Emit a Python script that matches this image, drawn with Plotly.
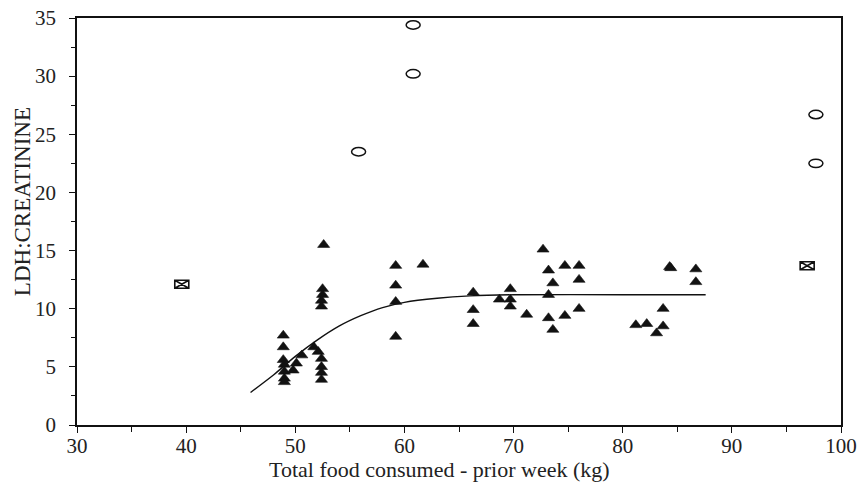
import plotly.graph_objects as go

# Filled triangles: total food consumed (kg) vs LDH:creatinine
tri_x = [48.9, 48.9, 48.9, 49.0, 49.0, 49.0, 49.0, 49.8, 50.1, 50.6, 51.7, 52.1,
         52.4, 52.4, 52.4, 52.4,
         52.6, 52.5, 52.5, 52.4, 52.4,
         59.2, 59.2, 59.2, 59.2, 61.7,
         66.3, 66.3, 66.3,
         68.7, 69.7, 69.7, 69.7, 71.2,
         72.7, 73.2, 73.6, 73.2, 73.2, 73.6,
         74.7, 76.0, 76.0, 76.0, 74.7,
         81.2, 82.2, 83.1, 83.7, 83.7, 84.3, 84.4, 86.7, 86.7]
tri_y = [7.7, 6.7, 5.6, 5.2, 4.6, 4.0, 3.7, 4.7, 5.3, 6.0, 6.7, 6.3,
         5.7, 5.0, 4.5, 3.9,
         15.5, 11.7, 11.2, 10.7, 10.2,
         13.7, 12.0, 10.6, 7.6, 13.8,
         11.4, 9.9, 8.7,
         10.8, 11.7, 10.8, 10.2, 9.5,
         15.1, 13.3, 12.2, 11.2, 9.2, 8.2,
         13.7, 13.7, 12.5, 10.0, 9.4,
         8.6, 8.7, 7.9, 8.5, 10.0, 13.6, 13.5, 13.4, 12.3]

# Open ellipses
ell_x = [60.8, 60.8, 55.8, 97.7, 97.7]
ell_y = [34.4, 30.2, 23.5, 26.7, 22.5]

# Crossed boxes
box_x = [39.6, 96.9]
box_y = [12.1, 13.7]

# Fitted curve
fit_x = [45.9, 48.0, 50.0, 52.0, 54.0, 56.0, 58.0, 60.0, 63.0, 66.0, 70.0, 80.0, 87.6]
fit_y = [2.8, 4.3, 5.9, 7.3, 8.5, 9.4, 10.1, 10.55, 10.9, 11.1, 11.2, 11.2, 11.2]

x_ticks = [30, 40, 50, 60, 70, 80, 90, 100]
y_ticks = [0, 5, 10, 15, 20, 25, 30, 35]

FONT = "Liberation Serif, Times New Roman, serif"
INK = "#222222"

fig = go.Figure()

fig.add_trace(go.Scatter(
    x=fit_x, y=fit_y, mode="lines",
    line=dict(color="#111111", width=1.4, shape="spline", smoothing=0.8),
    hoverinfo="skip", showlegend=False,
))

fig.add_trace(go.Scatter(
    x=tri_x, y=tri_y, mode="markers",
    marker=dict(symbol="triangle-up", size=10.5, color="#121212",
                line=dict(color="#121212", width=0.6)),
    showlegend=False,
))

shapes = []
for ex, ey in zip(ell_x, ell_y):
    shapes.append(dict(
        type="circle", xref="x", yref="y",
        xsizemode="pixel", ysizemode="pixel",
        xanchor=ex, yanchor=ey,
        x0=-7, x1=7, y0=-4.2, y1=4.2,
        line=dict(color="#111111", width=1.5),
        fillcolor="rgba(255,255,255,0)",
    ))
for bx, by in zip(box_x, box_y):
    shapes.append(dict(
        type="path", xref="x", yref="y",
        xsizemode="pixel", ysizemode="pixel",
        xanchor=bx, yanchor=by,
        path="M-7,-4 L7,-4 L7,4 L-7,4 Z M-7,-4 L7,4 M-7,4 L7,-4",
        line=dict(color="#111111", width=1.6),
        fillcolor="rgba(255,255,255,0)",
    ))

fig.update_layout(
    width=857, height=493,
    margin=dict(l=77, r=16, t=18, b=68, autoexpand=False),
    paper_bgcolor="white", plot_bgcolor="white",
    font=dict(family=FONT, size=21, color=INK),
    shapes=shapes,
    showlegend=False,
    annotations=[
        dict(text="LDH:CREATININE", textangle=-90,
             xref="paper", yref="paper", x=-0.072, y=0.55,
             xanchor="center", yanchor="middle", showarrow=False,
             font=dict(family=FONT, size=23, color=INK)),
        dict(text="Total food consumed - prior week (kg)",
             xref="paper", yref="paper", x=0.474, y=-0.11,
             xanchor="center", yanchor="middle", showarrow=False,
             font=dict(family=FONT, size=22, color=INK)),
    ],
)

fig.update_xaxes(
    range=[30, 100], tickvals=x_ticks, ticktext=[str(v) for v in x_ticks],
    automargin=False,
    showgrid=False, zeroline=False,
    showline=True, linecolor="#111111", linewidth=1.5, mirror=True,
    ticks="outside", ticklen=6, tickwidth=1.2, tickcolor="#111111",
    minor=dict(dtick=5, ticks="outside", ticklen=5, tickwidth=1.2, tickcolor="#111111"),
    tickfont=dict(family=FONT, size=21),
    ticklabelstandoff=-5,
)
fig.update_yaxes(
    range=[0, 35], tickvals=y_ticks, ticktext=[str(v) for v in y_ticks],
    automargin=False,
    showgrid=False, zeroline=False,
    showline=True, linecolor="#111111", linewidth=1.5, mirror=True,
    ticks="outside", ticklen=6, tickwidth=1.2, tickcolor="#111111",
    minor=dict(dtick=2.5, ticks="outside", ticklen=4, tickwidth=1.2, tickcolor="#111111"),
    tickfont=dict(family=FONT, size=21),
    ticklabelstandoff=9,
)

fig.write_html("out.html")
